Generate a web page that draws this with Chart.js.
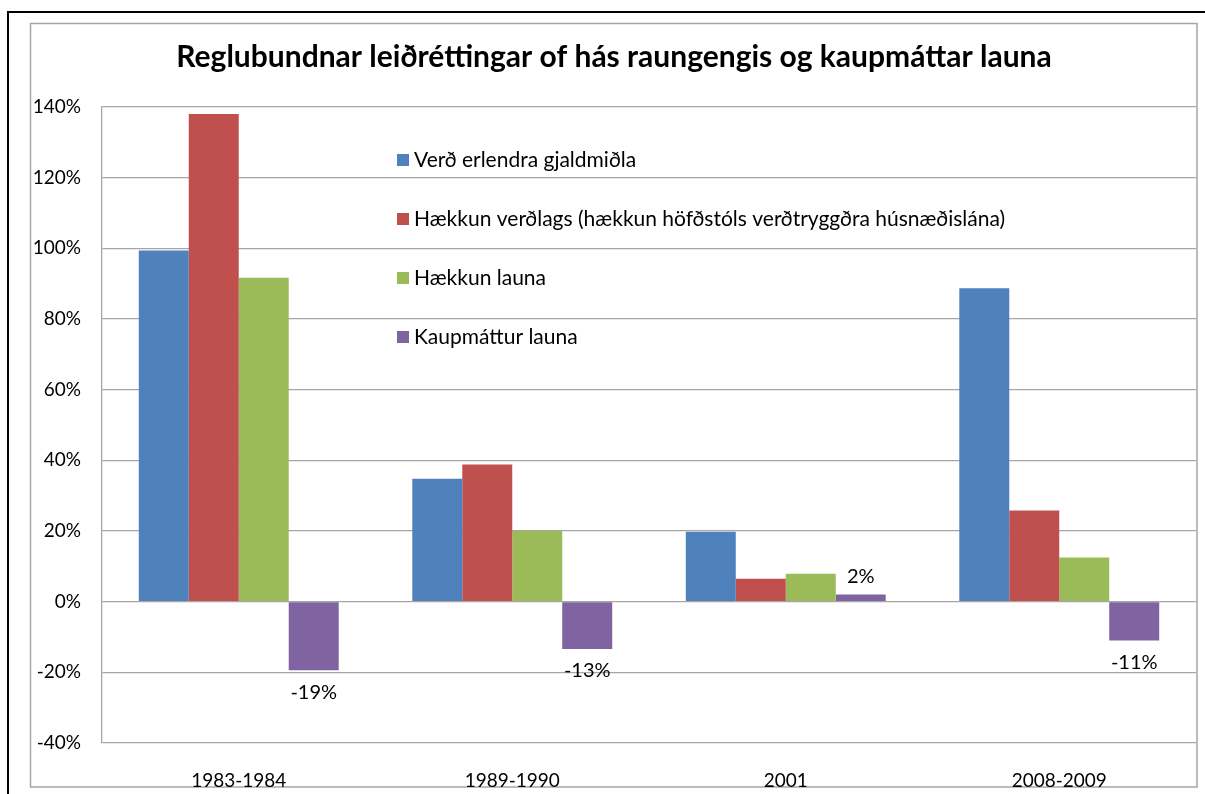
<!DOCTYPE html>
<html>
<head>
<meta charset="utf-8">
<script src="https://cdn.jsdelivr.net/npm/chart.js@4.4.0/dist/chart.umd.min.js"></script>
<style>
  html, body { margin: 0; padding: 0; background: #fff; }
  #wrap { position: absolute; left: 0; top: 0; width: 1205px; height: 794px; }
</style>
</head>
<body>
<div id="wrap"><canvas id="c" width="1205" height="794"></canvas></div>
<script>
const titleText = 'Reglubundnar leiðréttingar of hás raungengis og kaupmáttar launa';
const categories = ['1983-1984', '1989-1990', '2001', '2008-2009'];
const seriesNames = [
  'Verð erlendra gjaldmiðla',
  'Hækkun verðlags (hækkun höfðstóls verðtryggðra húsnæðislána)',
  'Hækkun launa',
  'Kaupmáttur launa'
];
const verdErlendra = [99.4, 34.8, 19.8, 88.7];
const haekkunVerdlags = [138.0, 38.8, 6.5, 25.8];
const haekkunLauna = [91.7, 20.1, 7.9, 12.5];
const kaupmattur = [-19.4, -13.4, 2.0, -11.0];
const kaupmatturLabels = ['-19%', '-13%', '2%', '-11%'];
const yTicks = [-40, -20, 0, 20, 40, 60, 80, 100, 120, 140];
const colors = ['#4F81BD', '#C0504D', '#9BBB59', '#8064A2'];

const FONT = 'Lato, "Open Sans", sans-serif';

const framePlugin = {
  id: 'frame',
  beforeDraw(chart) {
    const ctx = chart.ctx;
    ctx.save();
    ctx.fillStyle = '#fff';
    ctx.fillRect(0, 0, chart.width, chart.height);
    // outer black frame (top and left)
    ctx.strokeStyle = '#000';
    ctx.lineWidth = 2;
    ctx.beginPath();
    ctx.moveTo(8, 794);
    ctx.lineTo(8, 12);
    ctx.lineTo(1205, 12);
    ctx.stroke();
    // inner gray chart border
    ctx.strokeStyle = '#a6a6a6';
    ctx.lineWidth = 1.5;
    ctx.strokeRect(30.5, 23.5, 1166.5, 763.5);
    // title
    ctx.fillStyle = '#000';
    ctx.font = 'bold 30px ' + FONT;
    ctx.textAlign = 'center';
    ctx.textBaseline = 'middle';
    ctx.fillText(titleText, 614, 57);
    ctx.restore();
  },
  afterDatasetsDraw(chart) {
    const ctx = chart.ctx;
    ctx.save();
    // legend inside plot
    const legendY = [160, 219, 278, 337];
    ctx.font = '21px ' + FONT;
    ctx.textBaseline = 'middle';
    ctx.textAlign = 'left';
    chart.data.datasets.forEach((ds, i) => {
      ctx.fillStyle = ds.backgroundColor;
      ctx.fillRect(397, legendY[i] - 6, 12, 12);
      ctx.fillStyle = '#000';
      ctx.fillText(ds.label, 414, legendY[i]);
    });
    // data labels for Kaupmáttur launa
    const meta = chart.getDatasetMeta(3);
    ctx.font = '20px ' + FONT;
    ctx.textAlign = 'center';
    meta.data.forEach((bar, i) => {
      const v = kaupmattur[i];
      const y = v < 0 ? bar.y + 22 : bar.y - 18;
      ctx.fillText(kaupmatturLabels[i], bar.x, y);
    });
    ctx.restore();
  }
};

new Chart(document.getElementById('c'), {
  type: 'bar',
  data: {
    labels: categories,
    datasets: [
      { label: seriesNames[0], data: verdErlendra, backgroundColor: colors[0] },
      { label: seriesNames[1], data: haekkunVerdlags, backgroundColor: colors[1] },
      { label: seriesNames[2], data: haekkunLauna, backgroundColor: colors[2] },
      { label: seriesNames[3], data: kaupmattur, backgroundColor: colors[3] }
    ]
  },
  options: {
    responsive: false,
    animation: false,
    devicePixelRatio: 1,
    layout: { padding: { left: 0, right: 9, top: 107, bottom: 7 } },
    datasets: { bar: { barPercentage: 1.0, categoryPercentage: 0.731, borderWidth: 0 } },
    plugins: {
      legend: { display: false },
      title: { display: false },
      tooltip: { enabled: false }
    },
    scales: {
      x: {
        grid: { display: false },
        border: { display: false },
        ticks: { color: '#000', font: { family: FONT, size: 19 }, padding: 18, maxRotation: 0 },
        afterFit(scale) { scale.height = 44; }
      },
      y: {
        min: -40,
        max: 140,
        afterBuildTicks(scale) { scale.ticks = yTicks.map(v => ({ value: v })); },
        grid: { color: '#a6a6a6', lineWidth: 1.3, drawTicks: false },
        border: { display: true, color: '#a6a6a6', width: 1.3 },
        ticks: {
          color: '#000',
          font: { family: FONT, size: 19 },
          padding: 21,
          callback: v => v + '%'
        },
        afterFit(scale) { scale.width = 102; }
      }
    }
  },
  plugins: [framePlugin]
});
</script>
</body>
</html>
